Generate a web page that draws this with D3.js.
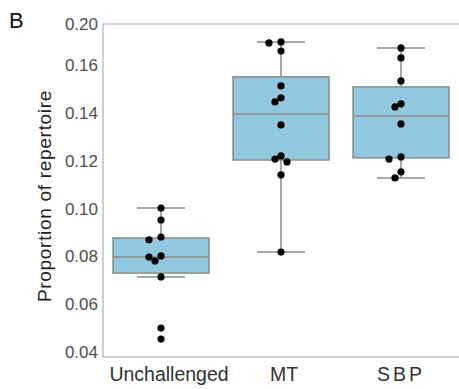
<!DOCTYPE html>
<html>
<head>
<meta charset="utf-8">
<script src="https://cdn.jsdelivr.net/npm/d3@7"></script>
<style>
  html, body { margin: 0; padding: 0; background: #fff; }
  svg { display: block; }
  text { font-family: "Liberation Sans", Arial, Helvetica, sans-serif; }
</style>
</head>
<body>
<svg id="chart" width="459" height="389"></svg>
<script>
// ---- data ----
const categories = ["Unchallenged", "MT", "SBP"];
const pointsUnchallenged = [0.1002, 0.0952, 0.0881, 0.0869, 0.0802, 0.0797, 0.0781, 0.0714, 0.0500, 0.0454];
const pointsMT = [0.1697, 0.1693, 0.1659, 0.1513, 0.1463, 0.1446, 0.1350, 0.1220, 0.1207, 0.1195, 0.1141, 0.0818];
const pointsSBP = [0.1672, 0.1630, 0.1534, 0.1438, 0.1425, 0.1354, 0.1216, 0.1207, 0.1153, 0.1128];
const q1 = [0.0730, 0.1203, 0.1212];
const medians = [0.0797, 0.1396, 0.1387];
const q3 = [0.0877, 0.1551, 0.1509];
const whiskerLow = [0.0714, 0.0818, 0.1128];
const whiskerHigh = [0.1002, 0.1697, 0.1672];
const yTickValues = [0.04, 0.06, 0.08, 0.10, 0.12, 0.14, 0.16, 0.1772];
const yTickLabels = ["0.04", "0.06", "0.08", "0.10", "0.12", "0.14", "0.16", "0.20"];
const yDomain = [0.0379, 0.1772];
const yTitle = "Proportion of repertoire";
const panelLabel = "B";

const pointSets = [pointsUnchallenged, pointsMT, pointsSBP];

(function draw() {
  const svg = d3.select("#chart");
  const plotLeft = 103, plotTop = 24, plotBottom = 357, plotRight = 470;

  const x = d3.scaleBand().domain(categories).range([101, 461]).paddingInner(0).paddingOuter(0);
  const y = d3.scaleLinear().domain(yDomain).range([plotBottom, plotTop]);

  const frameColor = "#c4c4c4";
  const boxStroke = "#8c8c8c";
  const boxFill = "#93c7e0";

  // frame (left, top, bottom; right side runs off the image)
  svg.append("path")
    .attr("d", `M${plotRight},${plotTop}H${plotLeft}V${plotBottom}H${plotRight}`)
    .attr("fill", "none")
    .attr("stroke", frameColor)
    .attr("stroke-width", 1.6);

  // y axis labels
  const yAxis = d3.axisLeft(y)
    .tickValues(yTickValues)
    .tickFormat((d, i) => yTickLabels[i])
    .tickSize(0)
    .tickPadding(5);
  const gy = svg.append("g").attr("transform", `translate(${plotLeft},0)`).call(yAxis);
  gy.select(".domain").remove();
  gy.selectAll("text")
    .attr("font-size", 17)
    .attr("fill", "#505050")
    .attr("font-family", "Liberation Sans, Arial, sans-serif");

  // x axis labels
  const xAxis = d3.axisBottom(x).tickSize(0).tickPadding(10);
  const gx = svg.append("g").attr("transform", `translate(0,${plotBottom})`).call(xAxis);
  gx.select(".domain").remove();
  gx.selectAll("text")
    .attr("font-size", 19.5)
    .attr("fill", "#333")
    .attr("font-family", "Liberation Sans, Arial, sans-serif")
    .attr("dx", d => d === "Unchallenged" ? 8 : (d === "MT" ? 3 : 0))
    .attr("letter-spacing", d => d === "SBP" ? 3 : 0);

  // y title
  svg.append("text")
    .attr("transform", `translate(51,196) rotate(-90)`)
    .attr("text-anchor", "middle")
    .attr("font-size", 19)
    .attr("letter-spacing", 0.7)
    .attr("fill", "#222")
    .text(yTitle);

  // panel label
  svg.append("text")
    .attr("x", 9)
    .attr("y", 28)
    .attr("font-size", 22)
    .attr("fill", "#111")
    .text(panelLabel);

  // boxes
  const bw = x.bandwidth() * 0.8;
  const capW = bw / 2;
  const g = svg.append("g");
  categories.forEach((c, i) => {
    const cx = x(c) + x.bandwidth() / 2;
    const gg = g.append("g");
    const line = (x1, x2, y1, y2) => gg.append("line")
      .attr("x1", x1).attr("x2", x2).attr("y1", y1).attr("y2", y2)
      .attr("stroke", boxStroke).attr("stroke-width", 1.5);
    line(cx, cx, y(q3[i]), y(whiskerHigh[i]));
    line(cx, cx, y(q1[i]), y(whiskerLow[i]));
    line(cx - capW / 2, cx + capW / 2, y(whiskerHigh[i]), y(whiskerHigh[i]));
    line(cx - capW / 2, cx + capW / 2, y(whiskerLow[i]), y(whiskerLow[i]));
    gg.append("rect")
      .attr("x", cx - bw / 2).attr("width", bw)
      .attr("y", y(q3[i])).attr("height", y(q1[i]) - y(q3[i]))
      .attr("fill", boxFill).attr("stroke", boxStroke).attr("stroke-width", 1.5);
    line(cx - bw / 2, cx + bw / 2, y(medians[i]), y(medians[i]));

    // swarm points (simple dodge so overlapping dots spread sideways)
    const r = 3.6;
    const placed = [];
    const sorted = pointSets[i].slice().sort((a, b) => b - a);
    sorted.forEach(v => {
      const py = y(v);
      const cands = [0, -6, 6, -12, 12];
      let off = 0;
      for (const o of cands) {
        const ok = placed.every(p => Math.hypot(p.x - o, p.y - py) >= 2 * r - 0.5);
        if (ok) { off = o; break; }
      }
      placed.push({ x: off, y: py });
    });
    gg.selectAll("circle").data(placed).join("circle")
      .attr("cx", d => cx + d.x)
      .attr("cy", d => d.y)
      .attr("r", r)
      .attr("fill", "#000");
  });
})();
</script>
</body>
</html>
